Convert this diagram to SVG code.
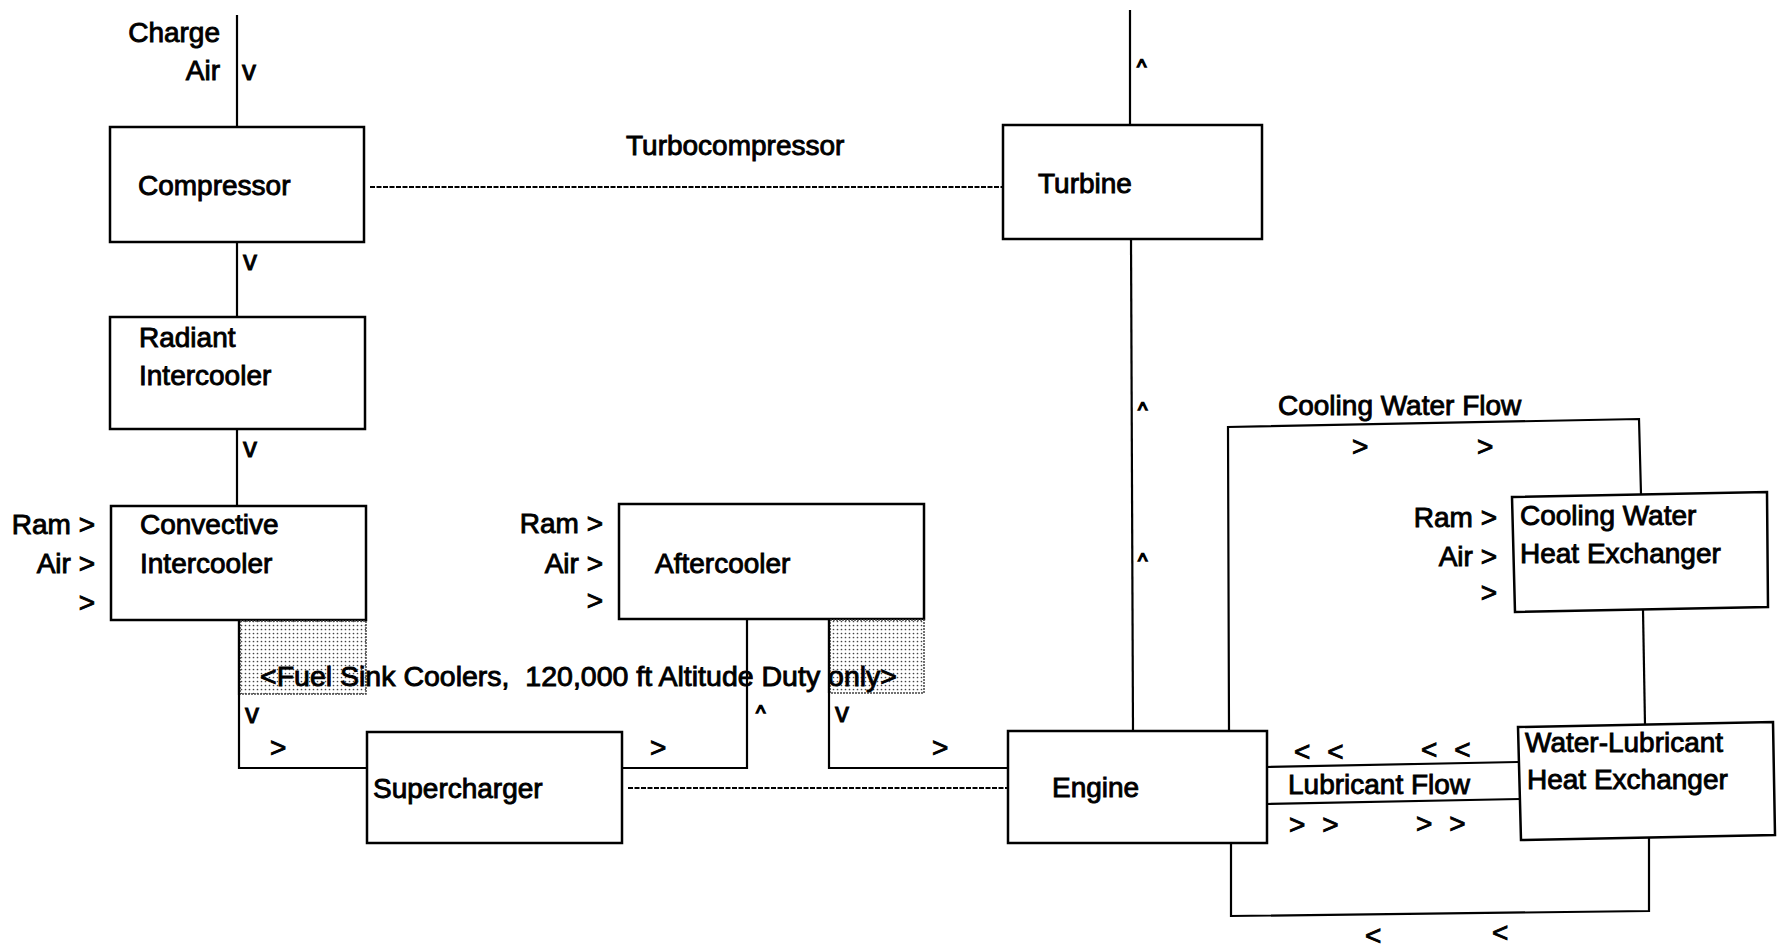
<svg xmlns="http://www.w3.org/2000/svg" width="1784" height="948" viewBox="0 0 1784 948">
<defs>
<pattern id="dots" width="4" height="4" patternUnits="userSpaceOnUse">
<rect width="4" height="4" fill="#fff"/>
<circle cx="1.5" cy="1.5" r="0.85" fill="#444"/>
</pattern>
<style>
.t{font-family:"Liberation Sans",Arial,Helvetica,sans-serif;font-size:28px;fill:#000;stroke:#000;stroke-width:0.9}
.c{font-family:"Liberation Sans",Arial,Helvetica,sans-serif;font-size:20px;fill:#000;stroke:#000;stroke-width:1.4}
.box{fill:#fff;stroke:#000;stroke-width:2.5}
.ln{fill:none;stroke:#000;stroke-width:2.2}
.dash{fill:none;stroke:#000;stroke-width:2.2;stroke-dasharray:5 1.5}
.shade{fill:url(#dots);stroke:#444;stroke-width:1.5;stroke-dasharray:2 1}
</style>
</defs>
<rect width="1784" height="948" fill="#fff"/>

<g id="connectors">
<line class="ln" x1="237" y1="15" x2="237" y2="127"/>
<line class="ln" x1="237" y1="242" x2="237" y2="317"/>
<line class="ln" x1="237" y1="429" x2="237" y2="506"/>
<polyline class="ln" points="239,620 239,768 367,768"/>
<polyline class="ln" points="622,768 747,768 747,619"/>
<polyline class="ln" points="829,619 829,768 1008,768"/>
<line class="dash" x1="628" y1="788" x2="1008" y2="788"/>
<line class="dash" x1="370" y1="187" x2="1003" y2="187"/>
<line class="ln" x1="1130" y1="10" x2="1130" y2="125"/>
<line class="ln" x1="1131" y1="238" x2="1133" y2="731"/>
<polyline class="ln" points="1229,731 1228,427 1639,419 1641,494"/>
<line class="ln" x1="1643" y1="610" x2="1645" y2="725"/>
<line class="ln" x1="1267" y1="767" x2="1518" y2="762"/>
<line class="ln" x1="1267" y1="804" x2="1520" y2="799"/>
<polyline class="ln" points="1231,843 1231,916 1649,911 1649,837"/>
</g>

<g id="labels">
<text class="t" x="220" y="42" text-anchor="end">Charge</text>
<text class="t" x="220" y="80" text-anchor="end">Air</text>
<text class="t" x="242" y="80">v</text>
<text class="t" x="243" y="270">v</text>
<text class="t" x="243" y="457">v</text>
<text class="t" x="626" y="155">Turbocompressor</text>
<text class="c" x="1137" y="74">^</text>
<text class="c" x="1138" y="417">^</text>
<text class="c" x="1138" y="568">^</text>
<text class="t" x="245" y="723">v</text>
<text class="t" x="270" y="757">&gt;</text>
<text class="t" x="650" y="757">&gt;</text>
<text class="c" x="756" y="720">^</text>
<text class="t" x="835" y="722">v</text>
<text class="t" x="932" y="757">&gt;</text>
<text class="t" x="1278" y="415">Cooling Water Flow</text>
<text class="t" x="1352" y="456">&gt;</text>
<text class="t" x="1477" y="456">&gt;</text>
<text class="t" x="1294" y="761" word-spacing="9">&lt; &lt;</text>
<text class="t" x="1421" y="759" word-spacing="9">&lt; &lt;</text>
<text class="t" x="1288" y="794">Lubricant Flow</text>
<text class="t" x="1289" y="834" word-spacing="9">&gt; &gt;</text>
<text class="t" x="1416" y="833" word-spacing="9">&gt; &gt;</text>
<text class="t" x="1365" y="945">&lt;</text>
<text class="t" x="1492" y="942">&lt;</text>
</g>

<g id="compressor">
<rect class="box" x="110" y="127" width="254" height="115"/>
<text class="t" x="138" y="195">Compressor</text>
</g>

<g id="turbine">
<rect class="box" x="1003" y="125" width="259" height="114"/>
<text class="t" x="1038" y="193">Turbine</text>
</g>

<g id="radiant-intercooler">
<rect class="box" x="110" y="317" width="255" height="112"/>
<text class="t" x="139" y="347">Radiant</text>
<text class="t" x="139" y="385">Intercooler</text>
</g>

<g id="convective-intercooler">
<rect class="box" x="111" y="506" width="255" height="114"/>
<text class="t" x="140" y="534">Convective</text>
<text class="t" x="140" y="573">Intercooler</text>
<text class="t" x="95" y="534" text-anchor="end">Ram &gt;</text>
<text class="t" x="95" y="573" text-anchor="end">Air &gt;</text>
<text class="t" x="95" y="612" text-anchor="end">&gt;</text>
</g>

<g id="aftercooler">
<rect class="box" x="619" y="504" width="305" height="115"/>
<text class="t" x="655" y="573">Aftercooler</text>
<text class="t" x="603" y="533" text-anchor="end">Ram &gt;</text>
<text class="t" x="603" y="573" text-anchor="end">Air &gt;</text>
<text class="t" x="603" y="610" text-anchor="end">&gt;</text>
</g>

<g id="fuel-sink-coolers">
<rect class="shade" x="240" y="621" width="126" height="73"/>
<rect class="shade" x="830" y="620" width="94" height="73"/>
<line class="ln" x1="239" y1="620" x2="239" y2="695"/>
<line class="ln" x1="829" y1="619" x2="829" y2="693"/>
<text class="t" x="260" y="686" textLength="637" lengthAdjust="spacingAndGlyphs" xml:space="preserve">&lt;Fuel Sink Coolers,  120,000 ft Altitude Duty only&gt;</text>
</g>

<g id="supercharger">
<rect class="box" x="367" y="732" width="255" height="111"/>
<text class="t" x="373" y="798">Supercharger</text>
</g>

<g id="engine">
<rect class="box" x="1008" y="731" width="259" height="112"/>
<text class="t" x="1052" y="797">Engine</text>
</g>

<g id="cooling-water-heat-exchanger">
<polygon class="box" points="1512,497 1767,492 1768,607 1515,612"/>
<text class="t" x="1520" y="525">Cooling Water</text>
<text class="t" x="1520" y="563">Heat Exchanger</text>
<text class="t" x="1497" y="527" text-anchor="end">Ram &gt;</text>
<text class="t" x="1497" y="566" text-anchor="end">Air &gt;</text>
<text class="t" x="1497" y="602" text-anchor="end">&gt;</text>
</g>

<g id="water-lubricant-heat-exchanger">
<polygon class="box" points="1518,727 1773,722 1775,835 1521,840"/>
<text class="t" x="1525" y="752">Water-Lubricant</text>
<text class="t" x="1527" y="789">Heat Exchanger</text>
</g>
</svg>
